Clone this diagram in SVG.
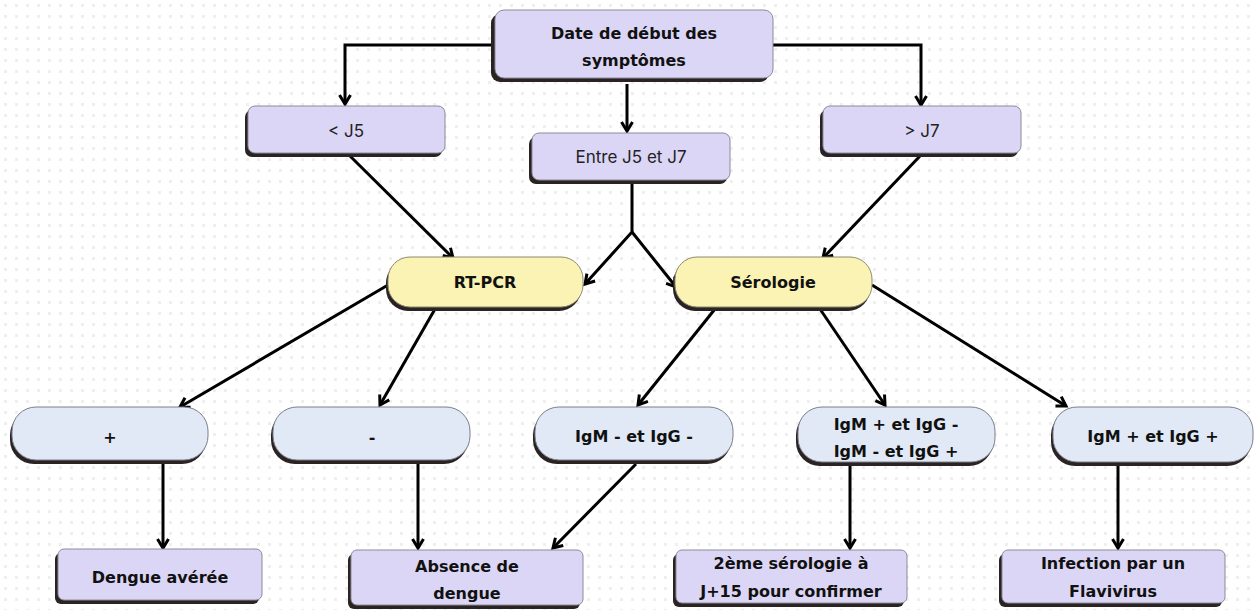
<svg xmlns="http://www.w3.org/2000/svg" width="1257" height="610" viewBox="0 0 1257 610">
  <defs>
    <pattern id="dots" width="11" height="11" patternUnits="userSpaceOnUse">
      <rect x="4" y="4" width="3" height="3" fill="#efefef"/>
    </pattern>
    <marker id="arr" viewBox="0 0 14 14" refX="11" refY="7" markerWidth="14" markerHeight="14" markerUnits="userSpaceOnUse" orient="auto">
      <polyline points="2,1.5 11,7 2,12.5" fill="none" stroke="#000" stroke-width="3" stroke-linejoin="miter"/>
    </marker>
  </defs>
  <style>
    .conn { fill: none; stroke: #000; stroke-width: 3; marker-end: url(#arr); }
    .shadow { fill: #2b2222; }
    .lav { fill: #dcd6f6; stroke: #8a8a99; stroke-width: 1; }
    .yel { fill: #faf3b4; stroke: #8a8a70; stroke-width: 1; }
    .blu { fill: #e1e9f6; stroke: #7a7f8a; stroke-width: 1; }
    .b { font-family: "DejaVu Sans", Verdana, sans-serif; font-weight: bold; font-size: 16px; fill: #111; text-anchor: middle; dominant-baseline: central; }
    .n { font-family: Inter, "Liberation Sans", sans-serif; font-size: 17px; fill: #222; text-anchor: middle; dominant-baseline: central; }
  </style>
  <rect width="1257" height="610" fill="#fff"/>
  <rect width="1257" height="610" fill="url(#dots)"/>

  <g id="connectors">
    <path class="conn" d="M492,45 H345 V104"/>
    <path class="conn" d="M773,45 H921 V105"/>
    <path class="conn" d="M627,84 V131"/>
    <path class="conn" d="M350,156 L453,258"/>
    <path class="conn" d="M920,156 L823,258"/>
    <path class="conn" d="M632,182 V232 L585,284"/>
    <path class="conn" d="M632,232 L676,287"/>
    <path class="conn" d="M388,285 L180,407"/>
    <path class="conn" d="M435,309 L380,405"/>
    <path class="conn" d="M715,309 L638,405"/>
    <path class="conn" d="M820,309 L885,405"/>
    <path class="conn" d="M872,285 L1066,406"/>
    <path class="conn" d="M163,463 V548"/>
    <path class="conn" d="M418,463 V548"/>
    <path class="conn" d="M636,464 L553,548"/>
    <path class="conn" d="M850,465 V548"/>
    <path class="conn" d="M1118,465 V548"/>
  </g>

  <g id="n-date">
    <rect class="shadow" x="491" y="14" width="278" height="68" rx="9"/>
    <rect class="lav" x="495" y="10" width="278" height="68" rx="9"/>
    <text class="b" x="634" y="33" font-size="17">Date de début des</text>
    <text class="b" x="634" y="60" font-size="17">symptômes</text>
  </g>

  <g id="n-j5">
    <rect class="shadow" x="245" y="110" width="197" height="47" rx="7"/>
    <rect class="lav" x="248" y="106" width="197" height="47" rx="7"/>
    <text class="n" x="346" y="131">&lt; J5</text>
  </g>

  <g id="n-j5j7">
    <rect class="shadow" x="529" y="137" width="198" height="47" rx="7"/>
    <rect class="lav" x="532" y="133" width="198" height="47" rx="7"/>
    <text class="n" x="631" y="157">Entre J5 et J7</text>
  </g>

  <g id="n-j7">
    <rect class="shadow" x="820" y="110" width="198" height="47" rx="7"/>
    <rect class="lav" x="823" y="106" width="198" height="47" rx="7"/>
    <text class="n" x="922" y="131">&gt; J7</text>
  </g>

  <g id="n-rtpcr">
    <rect class="shadow" x="386" y="261" width="195" height="50" rx="22"/>
    <rect class="yel" x="388" y="257" width="195" height="50" rx="22"/>
    <text class="b" x="485" y="282" font-size="17">RT-PCR</text>
  </g>

  <g id="n-sero">
    <rect class="shadow" x="673" y="261" width="197" height="50" rx="22"/>
    <rect class="yel" x="675" y="257" width="197" height="50" rx="22"/>
    <text class="b" x="773" y="282">Sérologie</text>
  </g>

  <g id="n-plus">
    <rect class="shadow" x="10" y="411" width="196" height="53" rx="24"/>
    <rect class="blu" x="12" y="407" width="196" height="53" rx="24"/>
    <text class="b" x="110" y="437">+</text>
  </g>

  <g id="n-minus">
    <rect class="shadow" x="271" y="411" width="197" height="53" rx="24"/>
    <rect class="blu" x="273" y="407" width="197" height="53" rx="24"/>
    <text class="b" x="372" y="437">-</text>
  </g>

  <g id="n-igmneg">
    <rect class="shadow" x="533" y="411" width="198" height="53" rx="24"/>
    <rect class="blu" x="535" y="407" width="198" height="53" rx="24"/>
    <text class="b" x="634" y="436" font-size="17">IgM - et IgG -</text>
  </g>

  <g id="n-igmmix">
    <rect class="shadow" x="796" y="411" width="197" height="55" rx="24"/>
    <rect class="blu" x="798" y="407" width="197" height="55" rx="24"/>
    <text class="b" x="896" y="424" font-size="17">IgM + et IgG -</text>
    <text class="b" x="896" y="451" font-size="17">IgM - et IgG +</text>
  </g>

  <g id="n-igmpos">
    <rect class="shadow" x="1051" y="411" width="200" height="55" rx="24"/>
    <rect class="blu" x="1053" y="407" width="200" height="55" rx="24"/>
    <text class="b" x="1153" y="436" font-size="17">IgM + et IgG +</text>
  </g>

  <g id="n-dengue">
    <rect class="shadow" x="55" y="553" width="204" height="51" rx="6"/>
    <rect class="lav" x="58" y="549" width="204" height="51" rx="6"/>
    <text class="b" x="160" y="577">Dengue avérée</text>
  </g>

  <g id="n-absence">
    <rect class="shadow" x="348" y="554" width="232" height="55" rx="6"/>
    <rect class="lav" x="351" y="550" width="232" height="55" rx="6"/>
    <text class="b" x="467" y="566">Absence de</text>
    <text class="b" x="467" y="593">dengue</text>
  </g>

  <g id="n-2eme">
    <rect class="shadow" x="673" y="554" width="231" height="53" rx="6"/>
    <rect class="lav" x="676" y="550" width="231" height="53" rx="6"/>
    <text class="b" x="791" y="563">2ème sérologie à</text>
    <text class="b" x="791" y="591">J+15 pour confirmer</text>
  </g>

  <g id="n-flavi">
    <rect class="shadow" x="999" y="554" width="223" height="53" rx="6"/>
    <rect class="lav" x="1002" y="550" width="223" height="53" rx="6"/>
    <text class="b" x="1113" y="563">Infection par un</text>
    <text class="b" x="1113" y="591">Flavivirus</text>
  </g>
</svg>
